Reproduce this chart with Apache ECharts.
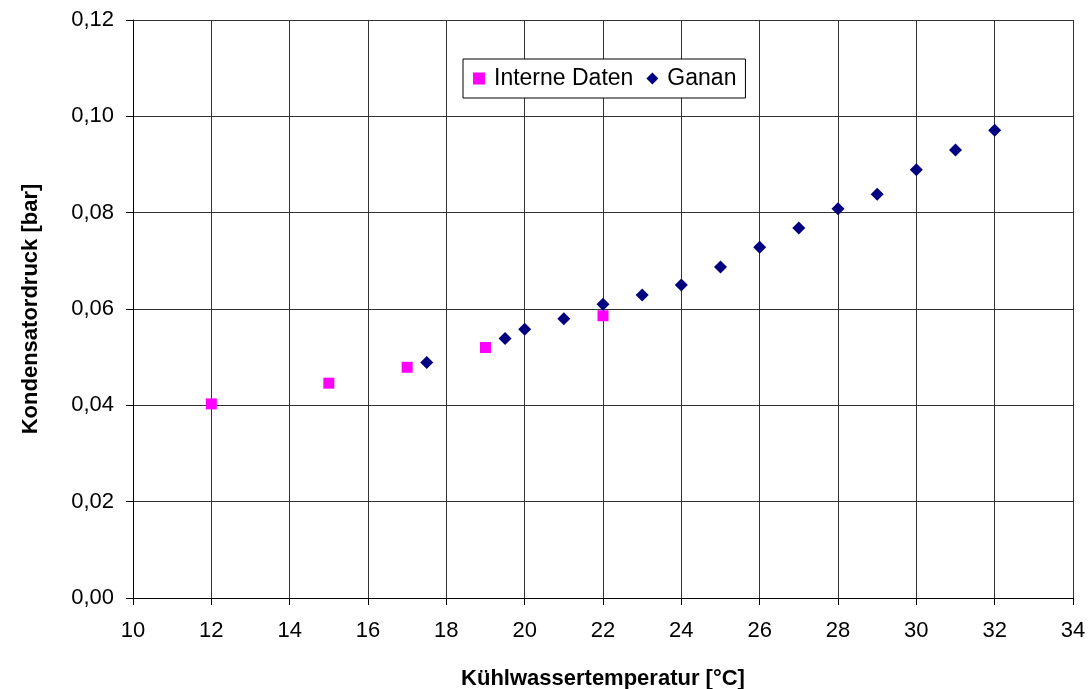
<!DOCTYPE html>
<html><head><meta charset="utf-8">
<script src="https://cdn.jsdelivr.net/npm/echarts@6/dist/echarts.min.js"></script>
<style>html,body{margin:0;padding:0;background:#fff}#c{width:1090px;height:689px}</style>
</head><body><div id="c"></div>
<script>
const interneX = [12, 15, 17, 19, 22];
const interneY = [0.0403, 0.0446, 0.0479, 0.0520, 0.0586];
const gananX = [17.5, 19.5, 20, 21, 22, 23, 24, 25, 26, 27, 28, 29, 30, 31, 32];
const gananY = [0.0489, 0.0539, 0.0558, 0.0580, 0.0610, 0.0629, 0.0650, 0.0687, 0.0728, 0.0768, 0.0808, 0.0838, 0.0889, 0.0930, 0.0971];
const seriesNames = ['Interne Daten', 'Ganan'];
const xTitle = 'Kühlwassertemperatur [°C]';
const yTitle = 'Kondensatordruck [bar]';

const font = 'Liberation Sans, Arial, sans-serif';
const chart = echarts.init(document.getElementById('c'), null, {renderer: 'canvas'});
chart.setOption({
  backgroundColor: '#fff',
  animation: false,
  grid: {left: 133, right: 17, top: 20, bottom: 91, containLabel: false, outerBoundsMode: 'none'},
  legend: {
    left: 463, top: 59,
    padding: [8, 9, 8, 10],
    borderColor: '#000', borderWidth: 1, backgroundColor: '#fff',
    itemGap: 13, itemWidth: 12, itemHeight: 12,
    textStyle: {fontFamily: font, fontSize: 23, color: '#000', padding: [0, 0, 0, 4]},
    data: [
      {name: seriesNames[0], icon: 'rect'},
      {name: seriesNames[1], icon: 'diamond'}
    ]
  },
  xAxis: {
    type: 'value', min: 10, max: 34, interval: 2,
    name: xTitle, nameLocation: 'middle', nameGap: 70,
    nameTextStyle: {fontFamily: font, fontSize: 22, fontWeight: 'bold', color: '#000'},
    axisLine: {show: true, onZero: false, lineStyle: {color: '#000', width: 1}},
    axisTick: {show: true, length: 7, lineStyle: {color: '#000'}},
    axisLabel: {fontFamily: font, fontSize: 22, color: '#000', margin: 22},
    splitLine: {show: true, lineStyle: {color: '#333', width: 1}}
  },
  yAxis: {
    type: 'value', min: 0, max: 0.12, interval: 0.02,
    name: yTitle, nameLocation: 'middle', nameGap: 91, nameRotate: 90,
    nameTextStyle: {fontFamily: font, fontSize: 22, fontWeight: 'bold', color: '#000'},
    axisLine: {show: true, lineStyle: {color: '#000', width: 1}},
    axisTick: {show: true, length: 7, lineStyle: {color: '#000'}},
    axisLabel: {fontFamily: font, fontSize: 22, color: '#000', margin: 19,
      formatter: v => v.toFixed(2).replace('.', ',')},
    splitLine: {show: true, lineStyle: {color: '#333', width: 1}}
  },
  series: [
    {
      name: seriesNames[0], type: 'scatter', symbol: 'rect', symbolSize: 11,
      itemStyle: {color: '#ff00ff', opacity: 1},
      data: interneX.map((x, i) => [x, interneY[i]])
    },
    {
      name: seriesNames[1], type: 'scatter', symbol: 'diamond', symbolSize: 13,
      itemStyle: {color: '#000080', opacity: 1},
      data: gananX.map((x, i) => [x, gananY[i]])
    }
  ]
});
</script></body></html>
